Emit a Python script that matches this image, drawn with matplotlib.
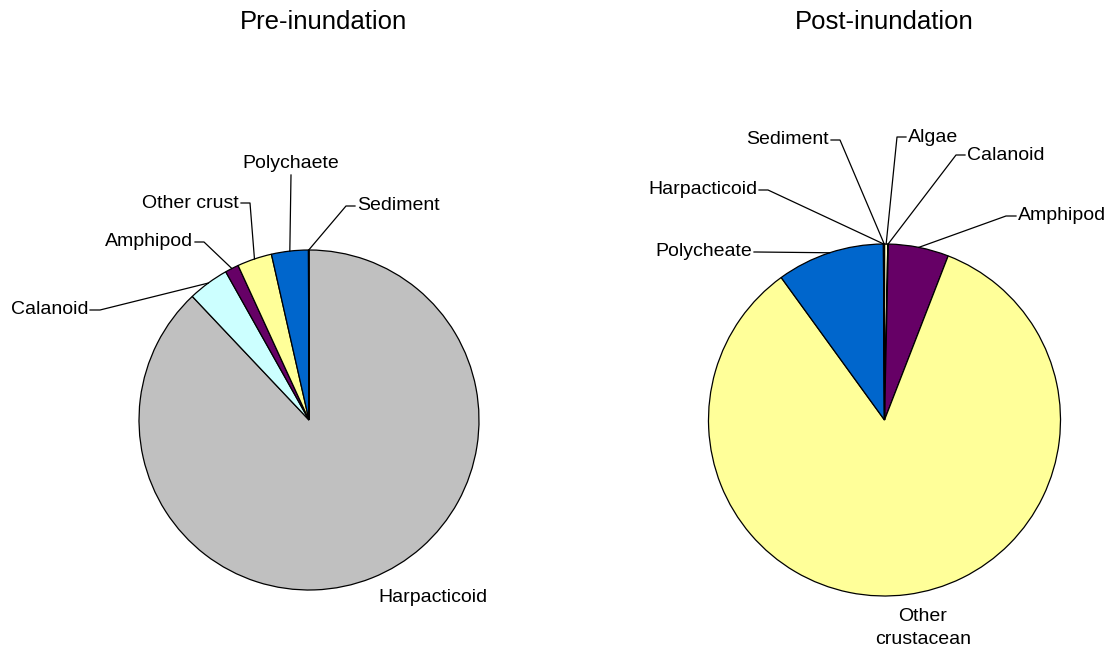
import numpy as np
import matplotlib
matplotlib.use("Agg")
from matplotlib import pyplot as plt

plt.rcParams['font.family'] = ['Liberation Sans', 'DejaVu Sans']

# diet composition (% of total), listed clockwise from 12 o'clock
pre_items = ['Harpacticoid', 'Calanoid', 'Amphipod', 'Other crust', 'Polychaete', 'Sediment']
pre_pct = [88.0, 3.9, 1.3, 3.3, 3.5, 0.05]
pre_colors = ['#C0C0C0', '#CCFFFF', '#660066', '#FFFF99', '#0066CC', '#FFFFFF']

post_items = ['Algae', 'Calanoid', 'Amphipod', 'Other\ncrustacean', 'Polycheate', 'Harpacticoid', 'Sediment']
post_pct = [0.3, 0.05, 5.55, 84.25, 9.9, 0.05, 0.05]
post_colors = ['#FFFFCC', '#CCFFFF', '#660066', '#FFFF99', '#0066CC', '#C0C0C0', '#FFFFFF']

W, H = 1114, 654

fig = plt.figure(figsize=(W / 100, H / 100), dpi=100)
ax = fig.add_axes([0, 0, 1, 1])

wp = dict(edgecolor='black', linewidth=0.9)
pre_w, _ = ax.pie(pre_pct, colors=pre_colors, startangle=90, counterclock=False,
                  center=(309, H - 420), radius=170, wedgeprops=wp)
post_w, _ = ax.pie(post_pct, colors=post_colors, startangle=90, counterclock=False,
                   center=(884.5, H - 420), radius=176, wedgeprops=wp)

ax.set_xlim(0, W)
ax.set_ylim(0, H)
ax.set_aspect('equal')
ax.axis('off')


def edge_point(w):
    mid = np.deg2rad((w.theta1 + w.theta2) / 2)
    cx, cy = w.center
    return cx + w.r * np.cos(mid), cy + w.r * np.sin(mid)


# label placement: text x, text y (from top), alignment, stub end x (None = no leader)
pre_lab = {
    'Harpacticoid': (378, 598, 'left', None),
    'Calanoid': (88, 310, 'right', 100),
    'Amphipod': (193, 242, 'right', 204),
    'Other crust': (239, 203, 'right', 250),
    'Polychaete': (291, 163, 'center', None),
    'Sediment': (357, 206, 'left', 346),
}
post_lab = {
    'Algae': (908, 137, 'left', 897),
    'Calanoid': (967, 155, 'left', 956),
    'Amphipod': (1018, 216, 'left', 1006),
    'Other\ncrustacean': (923, 628, 'center', None),
    'Polycheate': (752, 252, 'right', 756),
    'Harpacticoid': (757, 190, 'right', 768),
    'Sediment': (829, 140, 'right', 840),
}


def draw_labels(wedges, items, lab):
    for w, name in zip(wedges, items):
        tx, ty, ha, stub = lab[name]
        ax.text(tx, H - ty, name, ha=ha, va='center', fontsize=14,
                multialignment='center', linespacing=1.45)
        px, py = edge_point(w)
        if name == 'Polychaete':
            ax.plot([tx, px], [H - ty - 12, py], color='black', lw=0.9)
        elif stub is not None:
            x0 = tx + 2 if ha == 'left' else tx - 2
            x0 = x0 - 4 if ha == 'left' else x0 + 4
            ax.plot([x0, stub, px], [H - ty, H - ty, py], color='black', lw=0.9)


draw_labels(pre_w, pre_items, pre_lab)
draw_labels(post_w, post_items, post_lab)

ax.text(323, H - 22, 'Pre-inundation', ha='center', va='center', fontsize=18.5)
ax.text(884, H - 22, 'Post-inundation', ha='center', va='center', fontsize=18.5)

fig.savefig('out.png', dpi=100)
